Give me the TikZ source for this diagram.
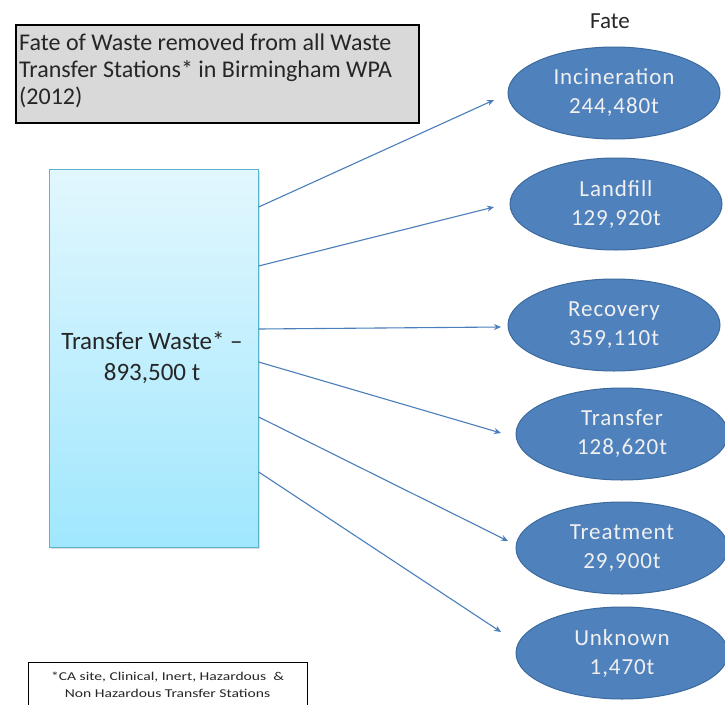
\documentclass[tikz,border=0pt]{standalone}
\usepackage{fontspec}
\setmainfont{Carlito}
\newfontfamily\footfont[FakeStretch=1.3]{Carlito}
\usetikzlibrary{shapes.geometric,arrows.meta,shadows}
\definecolor{ellfill}{HTML}{4F81BD}
\definecolor{ellline}{HTML}{3C6A9E}
\definecolor{arr}{HTML}{4A7EBB}
\definecolor{boxtop}{HTML}{E2F7FE}
\definecolor{boxbot}{HTML}{A0E7FD}
\definecolor{boxline}{HTML}{5AB4CC}
\definecolor{titlefill}{HTML}{D9D9D9}
\tikzset{
  fate/.style={ellipse, fill=ellfill, draw=ellline, line width=1pt, text=white!94!black,
    minimum width=212pt, minimum height=92pt, inner sep=0pt, align=center,
    font=\fontsize{23}{29}\selectfont\addfontfeature{LetterSpace=4}},
  flow/.style={-{Stealth[length=7pt,width=6pt]}, draw=arr, line width=1.1pt},
}
\begin{document}
\begin{tikzpicture}[x=1pt,y=-1pt]
\useasboundingbox (0,0) rectangle (725,704);
% title
\node[draw=black, line width=2pt, fill=titlefill, minimum width=403pt, minimum height=98pt,
  anchor=north west, inner sep=0pt] (title) at (15,24) {};
\node[anchor=north west, align=left, inner sep=0pt, font=\fontsize{24}{27}\selectfont,
  text=black!85] (titletext) at (19,34)
  {Fate of Waste removed from all Waste\\Transfer Stations* in Birmingham WPA\\(2012)};
% main box
\node[draw=boxline, line width=1.2pt, top color=boxtop, bottom color=boxbot,
  minimum width=209pt, minimum height=378pt, anchor=north west, inner sep=0pt,
  drop shadow={shadow xshift=1.5pt, shadow yshift=-1.5pt, opacity=0.25}] (main) at (48.5,168.5) {};
\node[align=center, font=\fontsize{25}{31}\selectfont, text=black!85] (maintext) at (152,358)
  {Transfer Waste* –\\893,500 t};
% fate
\node[font=\fontsize{23}{24}\selectfont, text=black!85] (fatelbl) at (610,21) {Fate};
\node[fate] (inc) at (614,93) {Incineration\\244,480t};
\node[fate] (land) at (616,204) {Landfill\\129,920t};
\node[fate] (rec) at (614,325) {Recovery\\359,110t};
\node[fate] (tra) at (622,434) {Transfer\\128,620t};
\node[fate] (tre) at (622,548) {Treatment\\29,900t};
\node[fate] (unk) at (622,653) {Unknown\\1,470t};
% arrow end coordinates
\coordinate (e1) at (494,100);
\coordinate (e2) at (494,207);
\coordinate (e3) at (501,327);
\coordinate (e4) at (501,433);
\coordinate (e5) at (508,541);
\coordinate (e6) at (501,632);
\draw[flow] (main.north east |- 0,207) -- (e1);
\draw[flow] (main.north east |- 0,266) -- (e2);
\draw[flow] (main.north east |- 0,329) -- (e3);
\draw[flow] (main.north east |- 0,362) -- (e4);
\draw[flow] (main.north east |- 0,417) -- (e5);
\draw[flow] (main.north east |- 0,472) -- (e6);
% footnote
\node[draw=black, line width=1pt, fill=white, minimum width=279pt, minimum height=50pt,
  anchor=north west, inner sep=0pt] (foot) at (28,662) {};
\node[align=center, font=\footfont\fontsize{12}{17}\selectfont, text=black!85] (foottext) at (167.5,685)
  {*CA site, Clinical, Inert, Hazardous\ \ \&\\Non Hazardous Transfer Stations};
\end{tikzpicture}
\end{document}
